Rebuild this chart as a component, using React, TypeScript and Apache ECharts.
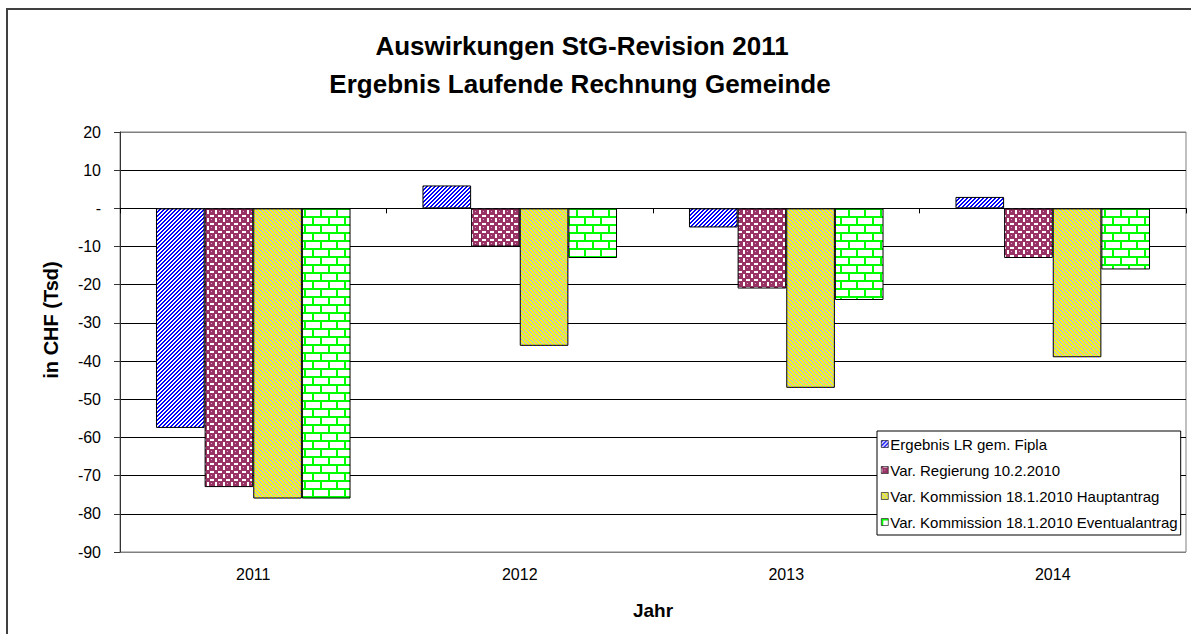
import React, { useEffect, useRef } from "react";
import * as echarts from "echarts";

const categories = ["2011", "2012", "2013", "2014"];
const seriesNames = [
  "Ergebnis LR gem. Fipla",
  "Var. Regierung 10.2.2010",
  "Var. Kommission 18.1.2010 Hauptantrag",
  "Var. Kommission 18.1.2010 Eventualantrag",
];
const ergebnisLR = [-57.5, 6, -5, 3];
const regierung = [-73, -10, -21, -13];
const hauptantrag = [-76, -36, -47, -39];
const eventualantrag = [-76, -13, -24, -16];
const yMin = -90;
const yMax = 20;
const yInterval = 10;
const titleLines = ["Auswirkungen StG-Revision 2011", "Ergebnis Laufende Rechnung Gemeinde"];
const yAxisName = "in CHF (Tsd)";
const xAxisName = "Jahr";

const FONT = '"Liberation Sans", Arial, sans-serif';

function pixelPattern(w: number, h: number, fn: (x: number, y: number) => string) {
  const c = document.createElement("canvas");
  c.width = w;
  c.height = h;
  const ctx = c.getContext("2d")!;
  for (let y = 0; y < h; y++) {
    for (let x = 0; x < w; x++) {
      ctx.fillStyle = fn(x, y);
      ctx.fillRect(x, y, 1, 1);
    }
  }
  return c;
}

function makePatterns() {
  const blue = pixelPattern(4, 4, (x, y) => ((x + y) % 4 < 2 ? "#0000ff" : "#ffffff"));
  const yellow = pixelPattern(4, 4, (x, y) => (((x - y + 8) % 4) < 2 ? "#ffff00" : "#c0c0c0"));
  const maroon = pixelPattern(8, 8, (x, y) => {
    const px = x + 0.5;
    const py = y + 0.5;
    const d1 = Math.hypot(px - 4, py - 4);
    if (d1 < 3.3) {
      if (x === 3 && y === 3) return "#d9a6bf";
      return "#993366";
    }
    const cx = px < 4 ? 0 : 8;
    const cy = py < 4 ? 0 : 8;
    const d2 = Math.hypot(px - cx, py - cy);
    if (d2 < 2.4) return "#993366";
    return "#ffffff";
  });
  const green = pixelPattern(16, 16, (x, y) => {
    if (y % 8 < 2) return "#00ff00";
    if (y < 8 && x < 2) return "#00ff00";
    if (y >= 8 && x >= 8 && x < 10) return "#00ff00";
    return "#ffffff";
  });
  return { blue, yellow, maroon, green };
}

export default function App() {
  const ref = useRef<HTMLDivElement>(null);
  useEffect(() => {
    if (!ref.current) return;
    const chart = echarts.init(ref.current, null, { renderer: "svg" });
    const p = makePatterns();
    const fills = [p.blue, p.maroon, p.yellow, p.green];
    const dataSets = [ergebnisLR, regierung, hauptantrag, eventualantrag];

    const splitColors = ["#808080"];
    for (let v = yMin + yInterval; v < yMax; v += yInterval) splitColors.push("#000000");
    splitColors.push("#808080");

    chart.setOption({
      animation: false,
      backgroundColor: "#ffffff",
      textStyle: { fontFamily: FONT },
      grid: {
        left: 120,
        right: 5,
        top: 132,
        bottom: 82,
        show: true,
        borderColor: "#808080",
        borderWidth: 1,
        backgroundColor: "#ffffff",
      },
      legend: {
        orient: "vertical",
        left: 877,
        top: 431,
        backgroundColor: "#ffffff",
        borderColor: "#000000",
        borderWidth: 1,
        borderRadius: 0,
        padding: [5, 3, 5, 4],
        itemWidth: 7,
        itemHeight: 7,
        itemGap: 10,
        icon: "rect",
        itemStyle: { borderWidth: 0.6 },
        textStyle: { fontSize: 15, lineHeight: 16, color: "#000", fontFamily: FONT, padding: [0, 0, 0, -3] },
        data: seriesNames,
      },
      xAxis: [
        {
          type: "category",
          data: categories,
          position: "bottom",
          axisLine: { show: true, onZero: true, lineStyle: { color: "#000", width: 1 } },
          axisTick: { show: true, length: 5, lineStyle: { color: "#000" } },
          axisLabel: { show: false },
          splitLine: { show: false },
        },
        {
          type: "category",
          data: categories,
          position: "bottom",
          axisLine: { show: false, onZero: false },
          axisTick: { show: false },
          axisLabel: { show: true, fontSize: 16, color: "#000", margin: 14, fontFamily: FONT },
          splitLine: { show: false },
        },
      ],
      yAxis: {
        type: "value",
        min: yMin,
        max: yMax,
        interval: yInterval,
        axisLine: { show: true, lineStyle: { color: "#333", width: 1 } },
        axisTick: { show: true, length: 6, lineStyle: { color: "#333" } },
        axisLabel: {
          fontSize: 16,
          color: "#000",
          margin: 19,
          fontFamily: FONT,
          formatter: (v: number) => (v === 0 ? "-" : String(v)),
        },
        splitLine: { show: true, lineStyle: { color: splitColors, width: 1 } },
      },
      series: seriesNames.map((name, i) => ({
        name,
        type: "bar",
        xAxisIndex: 0,
        data: dataSets[i],
        barGap: "0%",
        barCategoryGap: "27%",
        itemStyle: {
          color: { image: fills[i], repeat: "repeat" },
          borderColor: "#000",
          borderWidth: 1,
        },
      })),
      graphic: [
        {
          type: "rect",
          silent: true,
          shape: { x: 7, y: 9, width: 1400, height: 900 },
          style: { fill: "none", stroke: "#404040", lineWidth: 2 },
          z: 100,
        },
        {
          type: "text",
          x: 582,
          y: 46,
          style: {
            text: titleLines[0],
            fontSize: 26,
            fontWeight: "bold",
            fontFamily: FONT,
            fill: "#000",
            textAlign: "center",
            textVerticalAlign: "middle",
          },
        },
        {
          type: "text",
          x: 580,
          y: 84,
          style: {
            text: titleLines[1],
            fontSize: 26,
            fontWeight: "bold",
            fontFamily: FONT,
            fill: "#000",
            textAlign: "center",
            textVerticalAlign: "middle",
          },
        },
        {
          type: "text",
          x: 51,
          y: 320,
          rotation: Math.PI / 2,
          style: {
            text: yAxisName,
            fontSize: 20,
            fontWeight: "bold",
            fontFamily: FONT,
            fill: "#000",
            textAlign: "center",
            textVerticalAlign: "middle",
          },
        },
        {
          type: "text",
          x: 653,
          y: 610,
          style: {
            text: xAxisName,
            fontSize: 19,
            fontWeight: "bold",
            fontFamily: FONT,
            fill: "#000",
            textAlign: "center",
            textVerticalAlign: "middle",
          },
        },
      ],
    });
    return () => chart.dispose();
  }, []);
  return (
    <div
      ref={ref}
      style={{ position: "absolute", left: 0, top: 0, width: 1191, height: 634 }}
    />
  );
}
